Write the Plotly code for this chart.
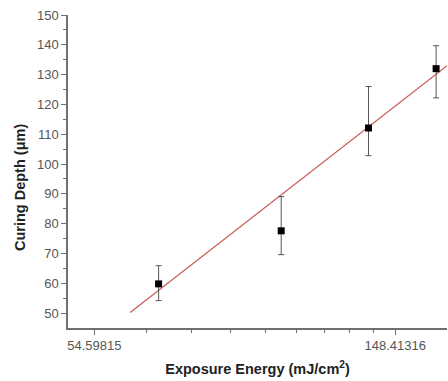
import numpy as np
import plotly.graph_objects as go

# Data
energy = [67.6, 101.6, 135.8, 170.0]          # mJ/cm^2
depth = [59.8, 77.6, 112.1, 132.0]            # um
err_plus = [6.1, 11.5, 13.9, 7.7]
err_minus = [5.6, 8.0, 9.3, 9.8]
fit_energy = [61.5, 177.0]
fit_depth = [50.2, 133.3]

x_tick_vals = [np.e ** 4, np.e ** 5]
x_tick_text = ["54.59815", "148.41316"]
x_minor_vals = [np.e ** 4 + k * (np.e ** 5 - np.e ** 4) / 9 for k in range(1, 9)]
y_tick_vals = list(range(50, 151, 10))
y_minor_vals = list(range(55, 150, 10))

axis_color = "#707070"
font_family = "Liberation Sans, Arial, sans-serif"

fig = go.Figure()
fig.add_trace(go.Scatter(
    x=fit_energy, y=fit_depth, mode="lines",
    line=dict(color="#cc5a55", width=1.2), showlegend=False, hoverinfo="skip"))
fig.add_trace(go.Scatter(
    x=energy, y=depth, mode="markers",
    marker=dict(symbol="square", size=7, color="black"),
    error_y=dict(type="data", symmetric=False, array=err_plus, arrayminus=err_minus,
                 color="#555555", thickness=1, width=3),
    showlegend=False))

fig.update_layout(
    width=448, height=381,
    margin=dict(l=68, r=1, t=15, b=53, autoexpand=False),
    paper_bgcolor="white", plot_bgcolor="white",
    font=dict(family=font_family, size=13, color="#555555"),
    xaxis=dict(
        type="log",
        range=[np.log10(np.e ** 3.9125), np.log10(np.e ** 5.172)],
        tickmode="array", tickvals=x_tick_vals, ticktext=x_tick_text,
        ticks="outside", ticklen=5, tickwidth=1.2, tickcolor=axis_color,
        showline=True, linecolor=axis_color, linewidth=1.5,
        showgrid=False, zeroline=False,
        minor=dict(tickmode="array", tickvals=x_minor_vals, ticks="outside",
                   ticklen=3, tickwidth=1.2, tickcolor=axis_color, showgrid=False),
        title=dict(text="<b>Exposure Energy (mJ/cm<sup>2</sup>)</b>",
                   font=dict(size=14.5, color="#222222"), standoff=12),
    ),
    yaxis=dict(
        range=[45, 150],
        tickmode="array", tickvals=y_tick_vals,
        ticks="outside", ticklen=5, tickwidth=1.2, tickcolor=axis_color,
        showline=True, linecolor=axis_color, linewidth=1.5,
        showgrid=False, zeroline=False,
        minor=dict(tickmode="array", tickvals=y_minor_vals, ticks="outside",
                   ticklen=3, tickwidth=1.2, tickcolor=axis_color, showgrid=False),
    ),
    annotations=[dict(
        text="<b>Curing Depth (μm)</b>", textangle=-90,
        xref="paper", yref="paper", x=-0.127, y=0.45,
        xanchor="center", yanchor="middle", showarrow=False,
        font=dict(size=14.5, color="#222222"))],
)

fig.write_html("out.html", config={"displayModeBar": False},
               post_script="document.body.style.margin='0';document.body.style.overflow='hidden';")
